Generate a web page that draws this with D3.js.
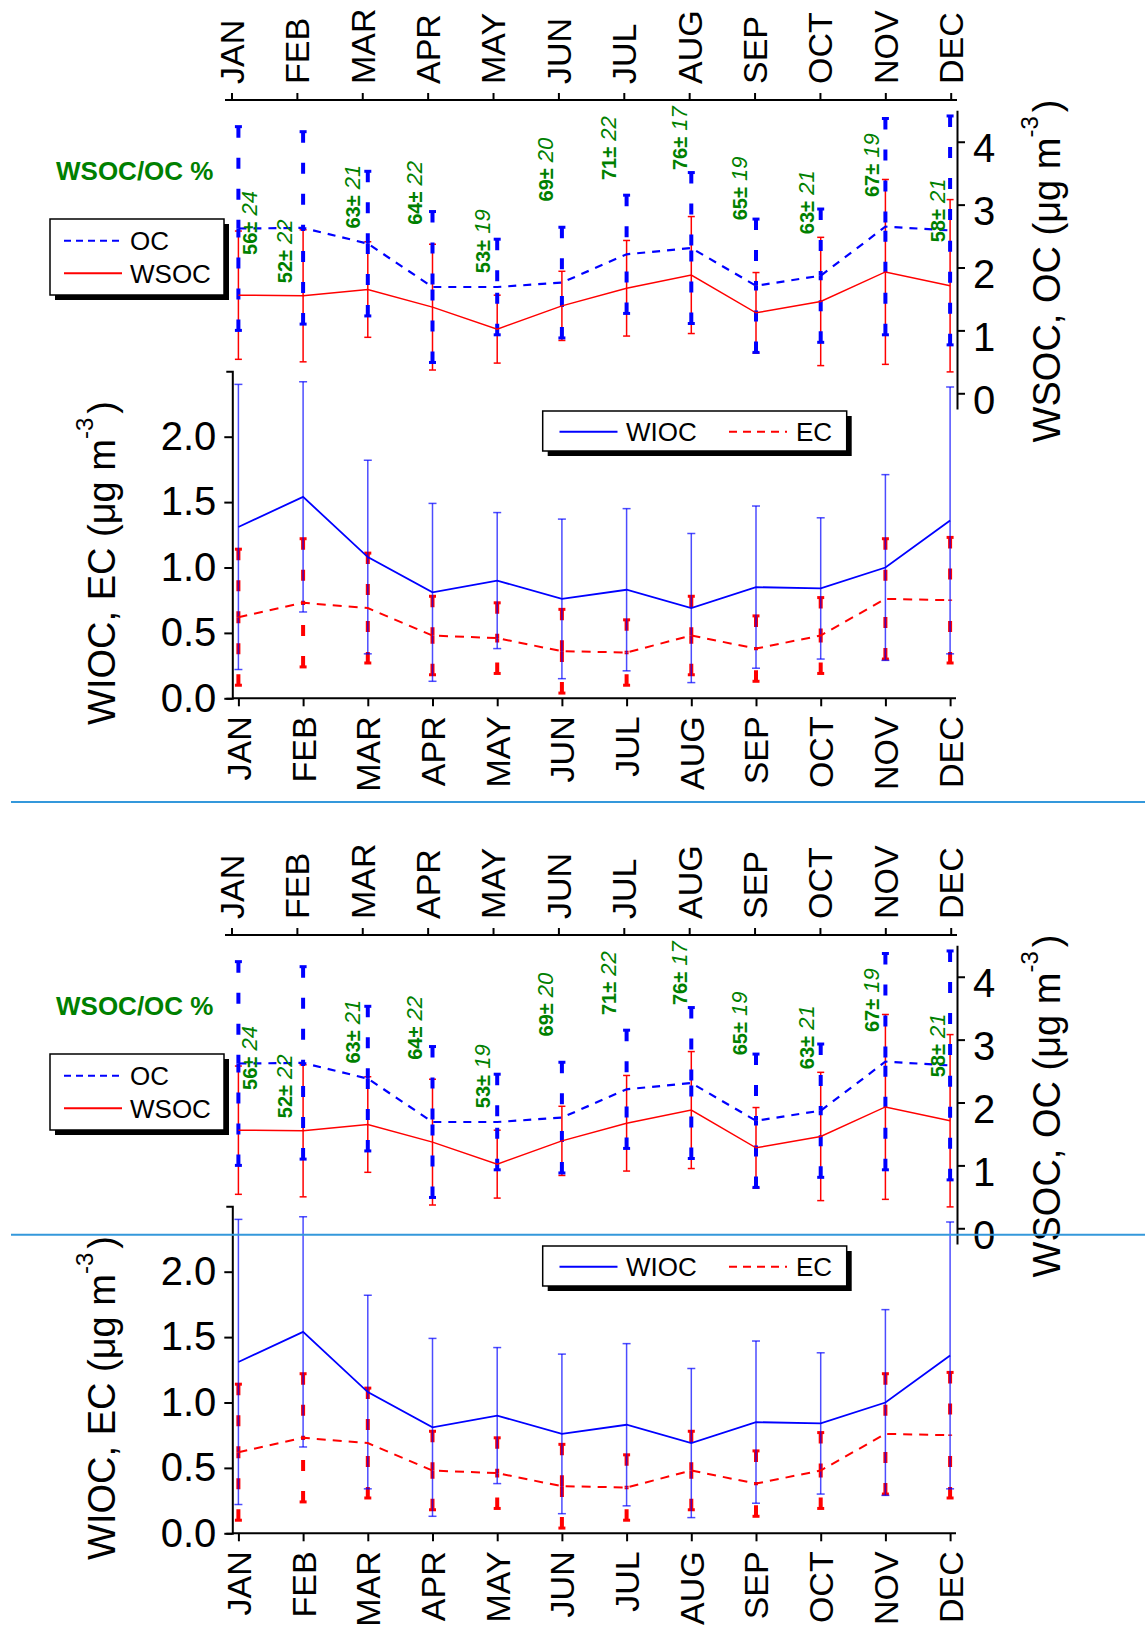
<!DOCTYPE html>
<html>
<head>
<meta charset="utf-8">
<script src="https://cdn.jsdelivr.net/npm/d3@7"></script>
<style>
  body { margin: 0; background: #fff; }
  svg { display: block; }
</style>
</head>
<body>
<svg id="chart" width="1145" height="1640"></svg>
<script>
// monthly means and standard deviations (ug m-3)
var months = ["JAN", "FEB", "MAR", "APR", "MAY", "JUN", "JUL", "AUG", "SEP", "OCT", "NOV", "DEC"];
var ocMean   = [2.62, 2.63, 2.38, 1.69, 1.69, 1.76, 2.21, 2.31, 1.71, 1.87, 2.65, 2.59];
var ocSd     = [1.62, 1.53, 1.15, 1.20, 0.76, 0.88, 0.94, 1.20, 1.06, 1.06, 1.72, 1.82];
var wsocMean = [1.56, 1.55, 1.65, 1.37, 1.02, 1.39, 1.67, 1.88, 1.28, 1.46, 1.93, 1.71];
var wsocSd   = [1.02, 1.05, 0.76, 1.00, 0.54, 0.55, 0.76, 0.93, 0.64, 1.02, 1.47, 1.37];
var wiocMean = [1.31, 1.54, 1.08, 0.81, 0.90, 0.76, 0.83, 0.69, 0.85, 0.84, 1.00, 1.36];
var wiocSd   = [1.09, 0.88, 0.74, 0.68, 0.52, 0.61, 0.62, 0.57, 0.62, 0.54, 0.71, 1.02];
var ecMean   = [0.62, 0.73, 0.69, 0.48, 0.46, 0.36, 0.35, 0.48, 0.38, 0.48, 0.76, 0.75];
var ecSd     = [0.52, 0.49, 0.42, 0.30, 0.27, 0.32, 0.25, 0.30, 0.25, 0.29, 0.46, 0.48];
var ratioMean = [56, 52, 63, 64, 53, 69, 71, 76, 65, 63, 67, 58];
var ratioSd   = [24, 22, 21, 22, 19, 20, 22, 17, 19, 21, 19, 21];
var leftTicks  = [0, 0.5, 1, 1.5, 2];
var rightTicks = [0, 1, 2, 3, 4];

// where the WSOC/OC % labels sit (right axis units, px offset from month)
var labelAt = [2.20, 1.75, 2.62, 2.68, 1.91, 3.05, 3.39, 3.55, 2.75, 2.53, 3.12, 2.40];
var labelDx = [18.6, -11.4, -7.8, -10.8, -7.2, -8.6, -10.6, -4.3, -9.3, -6.7, -6.4, -5.1];

var font = '"Liberation Sans", Arial, sans-serif';
var green = '#008000';

var svg = d3.select('#chart');

var x    = d3.scalePoint().domain(months).range([238.4, 950.1]);
var xTop = d3.scalePoint().domain(months).range([231.5, 950.7]);
var yR   = d3.scaleLinear().domain([-0.25, 4.5]).range([409, 110.3]);
var yL   = d3.scaleLinear().domain([0, 2.5]).range([698.3, 371.3]);

rows = function(mean, sd) {
	return months.map(function(m, i) { return {m: m, v: mean[i], s: sd[i]}; });
}

errorBars = function(g, data, y, color, width, dash, cap, opac) {
	var bars = g.append('g')
		.attr('stroke', color)
		.attr('stroke-opacity', opac || 1)
		.attr('fill', 'none')
		.selectAll('g')
			.data(data)
		.enter().append('g');

	if (dash) {
		// each half drawn from its end toward the mean
		bars.append('line')
			.attr('x1', function(d) { return x(d.m); })
			.attr('x2', function(d) { return x(d.m); })
			.attr('y1', function(d) { return y(d.v + d.s); })
			.attr('y2', function(d) { return y(d.v); })
			.attr('stroke-width', width)
			.attr('stroke-dasharray', dash);
		bars.append('line')
			.attr('x1', function(d) { return x(d.m); })
			.attr('x2', function(d) { return x(d.m); })
			.attr('y1', function(d) { return y(d.v - d.s); })
			.attr('y2', function(d) { return y(d.v); })
			.attr('stroke-width', width)
			.attr('stroke-dasharray', dash);
	} else {
		bars.append('line')
			.attr('x1', function(d) { return x(d.m); })
			.attr('x2', function(d) { return x(d.m); })
			.attr('y1', function(d) { return y(d.v + d.s); })
			.attr('y2', function(d) { return y(d.v - d.s); })
			.attr('stroke-width', width);
	}

	[1, -1].forEach(function(sign) {
		bars.append('line')
			.attr('x1', function(d) { return x(d.m) - cap / 2; })
			.attr('x2', function(d) { return x(d.m) + cap / 2; })
			.attr('y1', function(d) { return y(d.v + sign * d.s); })
			.attr('y2', function(d) { return y(d.v + sign * d.s); })
			.attr('stroke-width', dash ? 3 : width);
	});
}

meanLine = function(g, data, y, color, width, dash) {
	g.append('path')
		.datum(data)
		.attr('fill', 'none')
		.attr('stroke', color)
		.attr('stroke-width', width)
		.attr('stroke-dasharray', dash || null)
		.attr('d', d3.line().x(function(d) { return x(d.m); }).y(function(d) { return y(d.v); }));
}

styleAxis = function(a, size) {
	a.attr('font-family', font).attr('font-size', size);
	a.selectAll('path, line').attr('stroke', '#000').attr('stroke-width', 2);
	a.selectAll('text').attr('fill', '#000');
}

legend = function(g, x0, y0, w, h, items) {
	g.append('rect').attr('x', x0 + 5).attr('y', y0 + 5).attr('width', w).attr('height', h).attr('fill', '#000');
	g.append('rect').attr('x', x0).attr('y', y0).attr('width', w).attr('height', h)
		.attr('fill', '#fff').attr('stroke', '#000').attr('stroke-width', 1.5);
	items.forEach(function(it) {
		g.append('line')
			.attr('x1', it.lx).attr('x2', it.lx + 58)
			.attr('y1', it.ly).attr('y2', it.ly)
			.attr('stroke', it.color).attr('stroke-width', 2)
			.attr('stroke-dasharray', it.dash || null);
		g.append('text')
			.attr('x', it.tx).attr('y', it.ly + 9.5)
			.attr('font-family', font).attr('font-size', 26)
			.text(it.name);
	});
}

axisTitle = function(g, tx, ty, main) {
	var t = g.append('text')
		.attr('transform', 'translate(' + tx + ',' + ty + ') rotate(-90)')
		.attr('text-anchor', 'middle')
		.attr('font-family', font)
		.attr('font-size', 38);
	t.append('tspan').text(main + ' (\u03bcg m');
	t.append('tspan').attr('font-size', 24).attr('dy', -22).text('-3');
	t.append('tspan').attr('dy', 22).attr('dx', 4).text(')');
}

drawPanel = function(g) {

	// ---- top panel: OC and WSOC
	var ax = g.append('g').attr('transform', 'translate(0,100)')
		.call(d3.axisTop(xTop).tickSize(7).tickSizeOuter(0));
	ax.select('.domain').attr('d', 'M225,0H957');
	ax.selectAll('text')
		.attr('transform', 'rotate(-90)')
		.attr('x', 16).attr('y', 0).attr('dy', '0.35em')
		.style('text-anchor', 'start');
	styleAxis(ax, 34);

	var ar = g.append('g').attr('transform', 'translate(957,0)')
		.call(d3.axisRight(yR).tickValues(rightTicks).tickFormat(d3.format('d'))
			.tickSize(8).tickPadding(8).tickSizeOuter(0));
	ar.selectAll('text').attr('dy', '0.5em');
	styleAxis(ar, 40);

	axisTitle(g, 1060, 271, 'WSOC, OC');

	var wsoc = rows(wsocMean, wsocSd);
	var oc = rows(ocMean, ocSd);
	errorBars(g, wsoc, yR, '#ff0000', 1.5, null, 7);
	errorBars(g, oc, yR, '#0000ff', 4, '11,20', 7);
	meanLine(g, oc, yR, '#0000ff', 2.2, '8,7');
	meanLine(g, wsoc, yR, '#ff0000', 1.5);

	var lab = g.append('g').selectAll('text')
			.data(months)
		.enter().append('text')
			.attr('transform', function(m, i) {
				return 'translate(' + (x(m) + labelDx[i]) + ',' + yR(labelAt[i]) + ') rotate(-90)';
			})
			.attr('font-family', font)
			.attr('fill', green);
	lab.append('tspan')
		.attr('font-weight', 'bold').attr('font-size', 20)
		.text(function(m, i) { return ratioMean[i] + '\u00b1'; });
	lab.append('tspan')
		.attr('font-style', 'italic').attr('font-size', 22)
		.text(function(m, i) { return ' ' + ratioSd[i]; });

	g.append('text')
		.attr('x', 56).attr('y', 180)
		.attr('font-family', font).attr('font-size', 26).attr('font-weight', 'bold')
		.attr('fill', green)
		.text('WSOC/OC %');

	legend(g, 50, 219, 174, 76, [
		{name: 'OC', color: '#0000ff', dash: '7,5', lx: 64, ly: 240.7, tx: 130},
		{name: 'WSOC', color: '#ff0000', lx: 64, ly: 273.3, tx: 130}
	]);

	// ---- bottom panel: WIOC and EC
	var ab = g.append('g').attr('transform', 'translate(0,698.3)')
		.call(d3.axisBottom(x).tickSize(8).tickSizeOuter(0));
	ab.select('.domain').attr('d', 'M232,0H956');
	ab.selectAll('text')
		.attr('transform', 'rotate(-90)')
		.attr('x', -18).attr('y', 0).attr('dy', '0.35em')
		.style('text-anchor', 'end');
	styleAxis(ab, 34);

	var al = g.append('g').attr('transform', 'translate(232.3,0)')
		.call(d3.axisLeft(yL).tickValues(leftTicks).tickFormat(d3.format('.1f'))
			.tickSize(8).tickPadding(8).tickSizeOuter(6));
	styleAxis(al, 40);

	axisTitle(g, 115, 563, 'WIOC, EC');

	var wioc = rows(wiocMean, wiocSd);
	var ec = rows(ecMean, ecSd);
	errorBars(g, ec, yL, '#ff0000', 4, '11,20', 7);
	errorBars(g, wioc, yL, '#0000ff', 1.5, null, 8, 0.7);
	meanLine(g, ec, yL, '#ff0000', 2, '9,7');
	meanLine(g, wioc, yL, '#0000ff', 1.8);

	legend(g, 542.7, 411, 304, 40, [
		{name: 'WIOC', color: '#0000ff', lx: 559.5, ly: 431.7, tx: 626},
		{name: 'EC', color: '#ff0000', dash: '8,6', lx: 729, ly: 431.7, tx: 796}
	]);
}

drawPanel(svg.append('g'));
drawPanel(svg.append('g').attr('transform', 'translate(0,835)'));

// the two guide lines run across the page
[802, 1234.7].forEach(function(gy) {
	svg.append('line')
		.attr('x1', 11).attr('x2', 1145)
		.attr('y1', gy).attr('y2', gy)
		.attr('stroke', '#3498db')
		.attr('stroke-width', 2);
});
</script>
</body>
</html>
